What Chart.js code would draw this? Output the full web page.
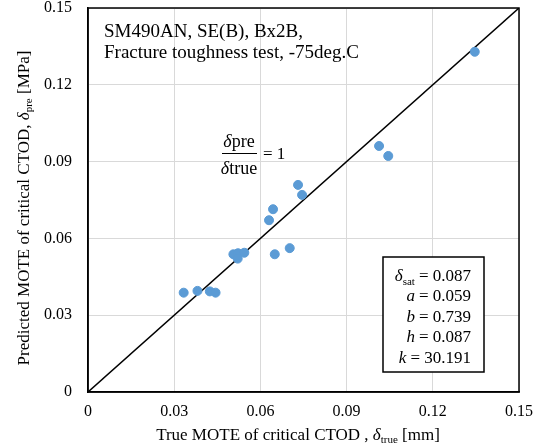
<!DOCTYPE html>
<html>
<head>
<meta charset="utf-8">
<script src="https://cdn.jsdelivr.net/npm/chart.js@4/dist/chart.umd.min.js"></script>
<style>
  html, body { margin: 0; padding: 0; background: #fff; }
  #wrap { width: 540px; height: 448px; }
</style>
</head>
<body>
<div id="wrap"><canvas id="cv" width="540" height="448"></canvas></div>
<script>
// measured vs predicted critical CTOD
const trueCTOD = [0.1013, 0.1045, 0.0731, 0.0745, 0.0644, 0.0630, 0.0702, 0.0650,
  0.0506, 0.0522, 0.0521, 0.0544, 0.0333, 0.0381, 0.0424, 0.0444, 0.1346];
const predCTOD = [0.0961, 0.0922, 0.0809, 0.0770, 0.0714, 0.0671, 0.0562, 0.0538,
  0.0538, 0.0542, 0.0521, 0.0544, 0.0388, 0.0395, 0.0393, 0.0388, 0.1329];
const unityLine = [0, 0.15];
const tickValues = [0, 0.03, 0.06, 0.09, 0.12, 0.15];
const titleLines = ["SM490AN, SE(B), Bx2B,", "Fracture toughness test, -75deg.C"];
const paramNames = ["δ|sat", "a", "b", "h", "k"];
const paramValues = ["0.087", "0.059", "0.739", "0.087", "30.191"];

const serif = '"Liberation Serif", "Times New Roman", serif';

// draw "δ|sub" style text: italic symbol + small subscript
function drawSym(ctx, s, x, y, size, align) {
  const [main, sub] = s.split("|");
  ctx.font = "italic " + size + "px " + serif;
  const w1 = ctx.measureText(main).width;
  let w2 = 0;
  if (sub) {
    ctx.font = Math.round(size * 0.65) + "px " + serif;
    w2 = ctx.measureText(sub).width;
  }
  let x0 = align === "right" ? x - w1 - w2 : align === "center" ? x - (w1 + w2) / 2 : x;
  ctx.textAlign = "left";
  ctx.font = "italic " + size + "px " + serif;
  ctx.fillText(main, x0, y);
  if (sub) {
    ctx.font = Math.round(size * 0.65) + "px " + serif;
    ctx.fillText(sub, x0 + w1, y + size * 0.22);
  }
  return w1 + w2;
}

// text with a subscripted delta in the middle
function drawTitle(ctx, pre, sub, post, cx, y, size) {
  const subSize = Math.round(size * 0.62);
  ctx.font = size + "px " + serif;
  const wa = ctx.measureText(pre).width;
  const wb = ctx.measureText(post).width;
  ctx.font = "italic " + size + "px " + serif;
  const wd = ctx.measureText("δ").width;
  ctx.font = subSize + "px " + serif;
  const ws = ctx.measureText(sub).width;
  const sx = cx - (wa + wd + ws + wb) / 2;
  ctx.textAlign = "left";
  ctx.font = size + "px " + serif;
  ctx.fillText(pre, sx, y);
  ctx.font = "italic " + size + "px " + serif;
  ctx.fillText("δ", sx + wa, y);
  ctx.font = subSize + "px " + serif;
  ctx.fillText(sub, sx + wa + wd, y + 3);
  ctx.font = size + "px " + serif;
  ctx.fillText(post, sx + wa + wd + ws, y);
}

const overlay = {
  id: "overlay",
  afterDraw(chart) {
    const ctx = chart.ctx;
    const a = chart.chartArea;
    ctx.save();
    ctx.fillStyle = "#000";
    ctx.textBaseline = "alphabetic";

    // frame
    ctx.strokeStyle = "#000";
    ctx.lineWidth = 1.5;
    ctx.strokeRect(a.left, a.top, a.right - a.left, a.bottom - a.top);

    // title block
    ctx.font = "19px " + serif;
    ctx.textAlign = "left";
    titleLines.forEach((t, i) => ctx.fillText(t, 104, 37 + i * 21));

    // fraction label
    const fs = 18;
    const fx = 239;
    ctx.textAlign = "left";
    ["pre", "true"].forEach((sub, i) => {
      const y = i === 0 ? 147 : 174;
      ctx.font = "italic " + fs + "px " + serif;
      const w = ctx.measureText("δ").width;
      ctx.font = fs + "px " + serif;
      const w2 = ctx.measureText(sub).width;
      ctx.font = "italic " + fs + "px " + serif;
      ctx.fillText("δ", fx - (w + w2) / 2, y);
      ctx.font = fs + "px " + serif;
      ctx.fillText(sub, fx - (w + w2) / 2 + w, y);
    });
    ctx.lineWidth = 1;
    ctx.beginPath();
    ctx.moveTo(222, 153.5);
    ctx.lineTo(257, 153.5);
    ctx.stroke();
    ctx.font = "17px " + serif;
    ctx.fillText("= 1", 263, 159);

    // parameter box
    ctx.fillStyle = "#fff";
    ctx.fillRect(383, 257, 101, 115);
    ctx.strokeStyle = "#000";
    ctx.lineWidth = 1.5;
    ctx.strokeRect(383, 257, 101, 115);
    ctx.fillStyle = "#000";
    paramNames.forEach((n, i) => {
      const y = 281 + i * 20.4;
      ctx.font = "17px " + serif;
      ctx.textAlign = "right";
      const val = "= " + paramValues[i];
      ctx.fillText(val, 471, y);
      const vw = ctx.measureText(val).width;
      drawSym(ctx, n, 471 - vw - 4, y, 17, "right");
    });

    // axis titles
    drawTitle(ctx, "True MOTE of critical CTOD , ", "true", " [mm]", 298, 440, 17);
    ctx.translate(29, 208);
    ctx.rotate(-Math.PI / 2);
    drawTitle(ctx, "Predicted MOTE of critical CTOD, ", "pre", " [MPa]", 0, 0, 17);
    ctx.restore();
  }
};

const fmt = (v) => (Math.abs(v) < 1e-9 ? "0" : Number(v).toFixed(2));

new Chart(document.getElementById("cv").getContext("2d"), {
  type: "scatter",
  data: {
    datasets: [
      {
        label: "data",
        data: trueCTOD.map((x, i) => ({ x: x, y: predCTOD[i] })),
        backgroundColor: "#5b9bd5",
        borderColor: "#5b9bd5",
        pointRadius: 4.5,
        order: 1,
      },
      {
        label: "unity",
        type: "line",
        data: unityLine.map((v) => ({ x: v, y: v })),
        borderColor: "#000",
        borderWidth: 1.5,
        pointRadius: 0,
        fill: false,
        order: 2,
      },
    ],
  },
  options: {
    responsive: false,
    animation: false,
    layout: { padding: { top: 8, right: 21, left: 0, bottom: 0 } },
    plugins: {
      legend: { display: false },
      tooltip: { enabled: false },
    },
    scales: {
      x: {
        type: "linear",
        min: 0,
        max: 0.15,
        afterBuildTicks: (s) => { s.ticks = tickValues.map((v) => ({ value: v })); },
        afterFit: (s) => { s.height = 56; s.paddingLeft = 0; s.paddingRight = 0; },
        grid: { color: "#d9d9d9", drawTicks: false, lineWidth: 1 },
        border: { color: "#000", width: 1.5 },
        ticks: {
          padding: 10,
          color: "#000",
          font: { family: serif, size: 16 },
          callback: fmt,
        },
      },
      y: {
        type: "linear",
        min: 0,
        max: 0.15,
        afterBuildTicks: (s) => { s.ticks = tickValues.map((v) => ({ value: v })); },
        afterFit: (s) => { s.width = 88; s.paddingTop = 0; s.paddingBottom = 0; },
        grid: { color: "#d9d9d9", drawTicks: false, lineWidth: 1 },
        border: { color: "#000", width: 1.5 },
        ticks: {
          padding: 16,
          color: "#000",
          font: { family: serif, size: 16 },
          callback: fmt,
        },
      },
    },
  },
  plugins: [overlay],
});
</script>
</body>
</html>
